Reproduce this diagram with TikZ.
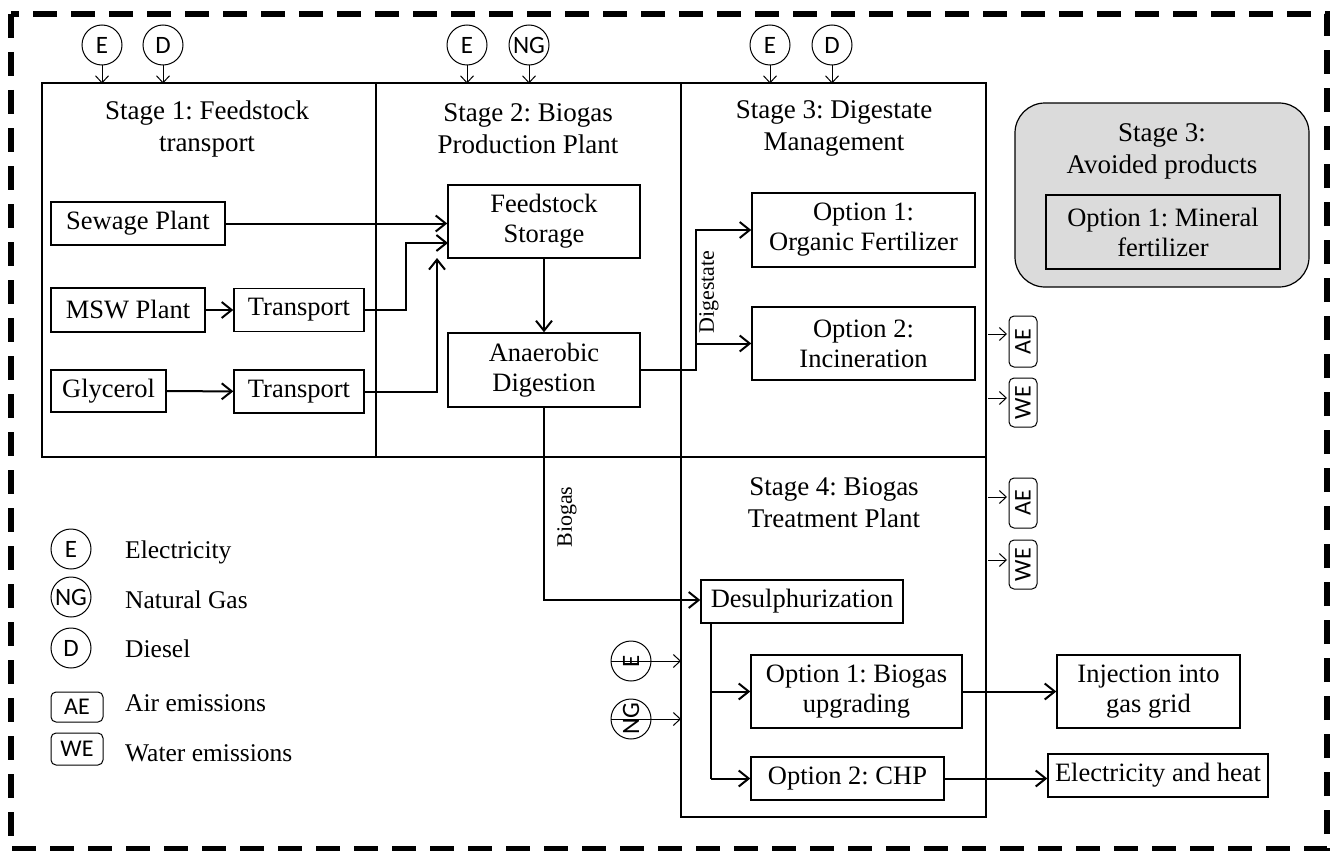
\documentclass[tikz,border=0pt]{standalone}
\usepackage{fontspec}
\setmainfont{Liberation Serif}
\newfontfamily\symfont{Carlito}
\usetikzlibrary{arrows.meta}
\newcommand\fsz[2]{\fontsize{#1}{#2}\selectfont}
\frenchspacing
\begin{document}
\begin{tikzpicture}[x=1pt,y=-1pt,
  stagebox/.style={line width=2.4pt},
  box/.style={draw, line width=1.4pt, inner sep=0pt, align=center, font=\fsz{26.5}{30}},
  title/.style={align=center, inner sep=0pt, font=\fsz{27}{32}},
  circ/.style={draw, circle, line width=1pt, minimum size=40pt, inner sep=0pt, font=\symfont\fsz{25}{25}},
  emi/.style={draw, rounded corners=5pt, line width=1pt, inner sep=0pt, font=\symfont\fsz{24}{24}},
  legtext/.style={anchor=west, inner sep=0pt, font=\fsz{25.5}{28}},
  arr/.style={line width=2pt, -{Straight Barb[length=10pt,width=16pt,line width=2pt]}},
  thinarr/.style={line width=1pt, -{Straight Barb[length=7pt,width=13pt,line width=1pt]}},
  lab/.style={rotate=90, inner sep=0pt, font=\fsz{22}{22}},
  greyfill/.style={fill=black!14}
]
\useasboundingbox (0,0) rectangle (1331,851);
% outer dashed border
\draw[line width=5.5pt, dash pattern=on 24pt off 14pt] (11,14) rectangle (1327,849);

% stage boxes
\draw[stagebox] (42,83) rectangle (986,457);
\draw[stagebox] (376,83) -- (376,457);
\draw[stagebox] (681,83) -- (681,457);
\draw[stagebox] (681,457) rectangle (986,817);

% titles
\node[title] (t1) at (207,129) {Stage 1: Feedstock\\transport};
\node[title] (t2) at (528,129) {Stage 2: Biogas\\Production Plant};
\node[title] (t3) at (834,128) {Stage 3: Digestate\\Management};
\node[title] (t4) at (834,503) {Stage 4: Biogas\\Treatment Plant};

% avoided products
\draw[greyfill, line width=1.2pt, rounded corners=30pt] (1015,103) rectangle (1309,287);
\node[title] (t5) at (1162,151) {Stage 3:\\Avoided products};
\node[box, greyfill, minimum width=234pt, minimum height=74pt] (mineral) at (1163,232) {Option 1: Mineral\\fertilizer};

% stage 1 boxes
\node[box, minimum width=174pt, minimum height=43pt] (sewage) at (138,223.5) {Sewage Plant};
\node[box, minimum width=154pt, minimum height=44pt] (msw) at (128,310) {MSW Plant};
\node[box, minimum width=130pt, minimum height=43pt] (tr1) at (299,310) {Transport};
\node[box, minimum width=115pt, minimum height=42pt] (gly) at (108.5,391) {Glycerol};
\node[box, minimum width=130pt, minimum height=43pt] (tr2) at (299,391.5) {Transport};

% stage 2 boxes
\node[box, minimum width=192pt, minimum height=73pt] (feed) at (544,221.5) {Feedstock\\Storage};
\node[box, minimum width=192pt, minimum height=74pt] (anaer) at (544,370) {Anaerobic\\Digestion};

% stage 3 boxes
\node[box, minimum width=223pt, minimum height=74pt] (opt1) at (863.5,230) {Option 1:\\Organic Fertilizer};
\node[box, minimum width=223pt, minimum height=73pt] (opt2) at (863.5,343.5) {Option 2:\\Incineration};

% stage 4 boxes
\node[box, minimum width=202pt, minimum height=43pt] (des) at (802,601.5) {Desulphurization};
\node[box, minimum width=211pt, minimum height=73pt] (upg) at (856.5,691.5) {Option 1: Biogas\\upgrading};
\node[box, minimum width=193pt, minimum height=43pt] (chp) at (847.5,778.5) {Option 2: CHP};
\node[box, minimum width=183pt, minimum height=73pt] (inj) at (1148.5,691.5) {Injection into\\gas grid};
\node[box, minimum width=220pt, minimum height=43pt] (eh) at (1158,775.5) {Electricity and heat};

% top input circles
\node[circ] (e1) at (102,45) {E};
\node[circ] (d1) at (163,45) {D};
\node[circ] (e2) at (467,45) {E};
\node[circ] (ng2) at (529,45) {NG};
\node[circ] (e3) at (770,45) {E};
\node[circ] (d3) at (832,45) {D};
\foreach \c in {e1,d1,e2,ng2,e3,d3}{
  \coordinate (\c t) at ([yshift=-18pt]\c.south);
  \draw[thinarr] (\c.south) -- (\c t);
}

% stage 4 side inputs
\node[circ, rotate=90] (e4) at (631,661) {E};
\node[circ, rotate=90] (ng4) at (631,719) {NG};
\coordinate (e4t) at (681,661);
\coordinate (ng4t) at (681,719);
\draw[thinarr] (e4.north) -- (e4t);
\draw[thinarr] (ng4.north) -- (ng4t);

% emissions boxes
\node[emi, rotate=90, minimum width=51pt, minimum height=28pt] (ae1) at (1023,341.5) {AE};
\node[emi, rotate=90, minimum width=49pt, minimum height=28pt] (we1) at (1023,402.5) {WE};
\node[emi, rotate=90, minimum width=50pt, minimum height=28pt] (ae2) at (1023,503) {AE};
\node[emi, rotate=90, minimum width=49pt, minimum height=28pt] (we2) at (1023,564.5) {WE};
\coordinate (s3a) at (988,334);
\coordinate (s3w) at (988,398);
\coordinate (s4a) at (988,497);
\coordinate (s4w) at (988,560);
\draw[thinarr] (s3a) -- ([xshift=-16pt]s3a -| ae1.center);
\draw[thinarr] (s3w) -- ([xshift=-16pt]s3w -| we1.center);
\draw[thinarr] (s4a) -- ([xshift=-16pt]s4a -| ae2.center);
\draw[thinarr] (s4w) -- ([xshift=-16pt]s4w -| we2.center);

% legend
\node[circ] (le) at (71,549) {E};
\node[circ] (lng) at (71,597) {NG};
\node[circ] (ld) at (71,648) {D};
\node[emi, minimum width=52pt, minimum height=30pt] (lae) at (77,707) {AE};
\node[emi, minimum width=52pt, minimum height=32pt] (lwe) at (77,749) {WE};
\node[legtext] (lt1) at (125,552) {Electricity};
\node[legtext] (lt2) at (125,600) {Natural Gas};
\node[legtext] (lt3) at (125,649) {Diesel};
\node[legtext] (lt4) at (125,703) {Air emissions};
\node[legtext] (lt5) at (125,753) {Water emissions};

% flows stage 1 -> 2
\draw[arr] (sewage.east) -- (sewage.east -| feed.west);
\draw[arr] (msw) -- (tr1);
\draw[arr] (gly) -- (tr2);
\coordinate (j1) at (406,310);
\coordinate (j1e) at (448,243);
\draw[arr] (tr1.east) -- (j1) |- (j1e);
\coordinate (j2) at (437,391.5);
\coordinate (j2e) at (437,258);
\draw[arr] (tr2.east) -- (j2) -- (j2e);
\draw[arr] (feed) -- (anaer);

% digestate
\coordinate (dj) at (696,370);
\draw[arr] (anaer.east) -- (dj) |- (opt1.west);
\draw[arr] (dj |- opt2.west) -- (opt2.west);
\node[lab] (dlab) at (709,292) {Digestate};

% biogas
\coordinate (bj) at (544,600);
\draw[arr] (anaer.south) -- (bj) -- (bj -| des.west);
\node[lab] (blab) at (567,517) {Biogas};

% stage 4 flows
\coordinate (sj) at (711,623);
\coordinate (sb) at (711,778.5);
\draw[line width=2pt] (sj) -- (sb);
\draw[arr] (sb) -- (chp.west);
\draw[arr] (sj |- upg.west) -- (upg.west);
\draw[arr] (upg) -- (inj);
\draw[arr] (chp.east) -- (chp.east -| eh.west);
\end{tikzpicture}
\end{document}
